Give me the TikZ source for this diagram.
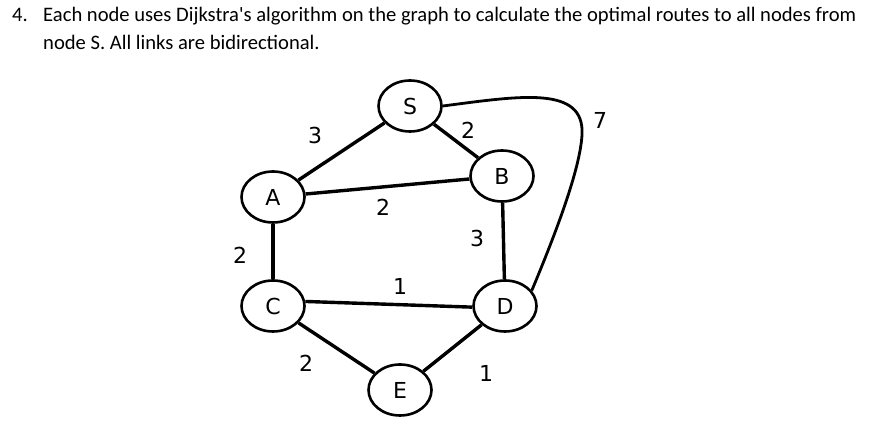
\documentclass[tikz,border=0pt]{standalone}
\usepackage{fontspec}
\setmainfont{Carlito}
\newfontfamily\graphfont{DejaVu Sans}
\usetikzlibrary{shapes.geometric}
\tikzset{
  vertex/.style={draw, ellipse, line width=2.6pt, minimum width=63pt, minimum height=51pt, inner sep=0pt, font=\graphfont\fontsize{22}{26}\selectfont},
  link/.style={line width=3.4pt},
  wt/.style={font=\graphfont\fontsize{22}{26}\selectfont, inner sep=0pt},
  title/.style={anchor=base west, inner sep=0pt, font=\fontsize{20.6}{24}\selectfont}
}
\begin{document}
\begin{tikzpicture}[x=1pt,y=-1pt]
\useasboundingbox (0,0) rectangle (887,430);
\fill[white] (0,0) rectangle (887,430);
\node[title] (n4) at (12,22) {4.};
\node[title] (t1) at (43,22) {Each node uses Dijkstra\textquotesingle s algorithm on the graph to calculate the optimal routes to all nodes from};
\node[title] (t2) at (43,50) {node S. All links are bidirectional.};

\node[vertex] (S) at (410,106) {S};
\node[vertex] (A) at (273,197) {A};
\node[vertex] (B) at (502,176) {B};
\node[vertex] (C) at (273,306) {C};
\node[vertex] (D) at (505,306) {D};
\node[vertex] (E) at (400,390) {E};

\draw[link] (S) -- (A);
\draw[link] (S) -- (B);
\draw[link] (A) -- (B);
\draw[link] (A) -- (C);
\draw[link] (B) -- (D);
\draw[link] (C.8) -- (D.182);
\draw[link] (C) -- (E);
\draw[link] (D) -- (E);
\draw[line width=2.8pt] (S.east) .. controls (520,96) and (585,85) .. (582,135) .. controls (580,170) and (555,235) .. (D.30);

\node[wt] (w1) at (315,135) {3};
\node[wt] (w2) at (468,130) {2};
\node[wt] (w3) at (383,207) {2};
\node[wt] (w4) at (240,255) {2};
\node[wt] (w5) at (477,238) {3};
\node[wt] (w6) at (400,286) {1};
\node[wt] (w7) at (306,363) {2};
\node[wt] (w8) at (486,373) {1};
\node[wt] (w9) at (600,120) {7};
\end{tikzpicture}
\end{document}
